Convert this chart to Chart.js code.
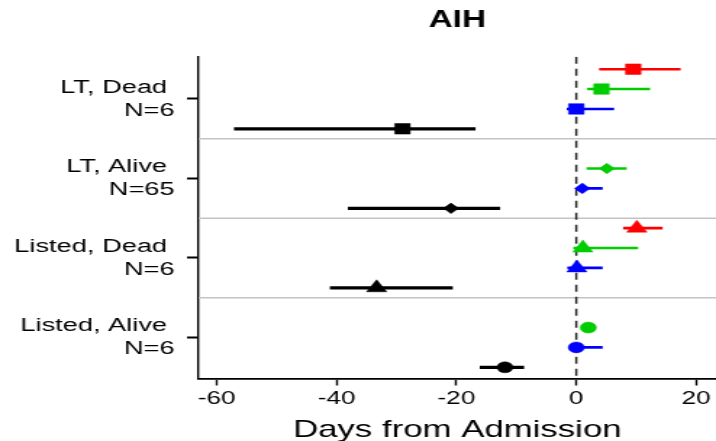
<!DOCTYPE html>
<html>
<head>
<meta charset="utf-8">
<script src="https://cdn.jsdelivr.net/npm/chart.js@4"></script>
<style>html,body{margin:0;padding:0;background:#fff}</style>
</head>
<body>
<!-- the reference is a horizontally stretched image, so the canvas is drawn narrow and stretched by CSS -->
<canvas id="chart" width="494" height="441" style="width:716px;height:441px;display:block"></canvas>
<script>
// ===== data (top group first) =====
const groups = ['LT, Dead', 'LT, Alive', 'Listed, Dead', 'Listed, Alive'];
const groupN = [6, 65, 6, 6];
const xTicks = [-60, -40, -20, 0, 20];

// estimate + interval in days from admission, null = not shown
const redPt   = [9.5, null, 10.1, null];
const redLo   = [3.8, null, 7.8, null];
const redHi   = [17.4, null, 14.4, null];
const greenPt = [4.2, 5.1, 1.1, 2.0];
const greenLo = [1.8, 1.7, -0.5, 1.3];
const greenHi = [12.3, 8.4, 10.3, 2.7];
const bluePt  = [0.0, 1.0, 0.1, 0.0];
const blueLo  = [-1.6, 0.1, -1.5, -1.2];
const blueHi  = [6.3, 4.4, 4.4, 4.4];
const blackPt = [-29.0, -20.9, -33.3, -11.9];
const blackLo = [-57.1, -38.1, -41.1, -16.1];
const blackHi = [-16.8, -12.7, -20.6, -8.7];

// ===== styles =====
const FONT = "'Liberation Sans', Arial, sans-serif";
const X_MIN = -63, X_MAX = 23.3, Y_MIN = 0.484, Y_MAX = 4.532;
const series = [
  { pt: redPt,   lo: redLo,   hi: redHi,   color: '#ff0000', off: 0.375,  lw: 2.6 },
  { pt: greenPt, lo: greenLo, hi: greenHi, color: '#00cc00', off: 0.125,  lw: 2.6 },
  { pt: bluePt,  lo: blueLo,  hi: blueHi,  color: '#0000ff', off: -0.125, lw: 2.6 },
  { pt: blackPt, lo: blackLo, hi: blackHi, color: '#000000', off: -0.375, lw: 3.2 }
];
const markers = [
  { style: 'rect', r: 7.5 }, { style: 'rectRot', r: 5.3 },
  { style: 'triangle', r: 8 }, { style: 'circle', r: 5.5 }
];
const groupY = i => groups.length - i;

const datasets = [];
// separators between groups
for (let k = 1; k < groups.length; k++) {
  const y = groupY(k) + 0.5;
  datasets.push({ type: 'line', data: [{x: X_MIN, y}, {x: X_MAX, y}], borderColor: '#c4c4c4',
    borderWidth: 1.5, pointRadius: 0, showLine: true, order: 4 });
}
// reference line at 0
datasets.push({ type: 'line', data: [{x: 0, y: Y_MAX}, {x: 0, y: Y_MIN}], borderColor: '#222',
  borderWidth: 1.5, borderDash: [7, 5], pointRadius: 0, showLine: true, order: 3 });

series.forEach(s => {
  const pts = [];
  groups.forEach((g, i) => {
    if (s.pt[i] === null) return;
    const y = groupY(i) + s.off;
    datasets.push({ type: 'line', data: [{x: s.lo[i], y}, {x: s.hi[i], y}], borderColor: s.color,
      borderWidth: s.lw, pointRadius: 0, showLine: true, order: 2 });
    pts.push({ x: s.pt[i], y, g: i });
  });
  datasets.push({ type: 'scatter', data: pts, showLine: false, order: 1,
    backgroundColor: s.color, borderColor: s.color, pointBorderWidth: 0.5,
    pointStyle: c => markers[c.raw.g].style, pointRadius: c => markers[c.raw.g].r });
});

new Chart(document.getElementById('chart'), {
  type: 'scatter',
  data: { datasets },
  options: {
    responsive: false, animation: false, events: [],
    layout: { padding: 0, autoPadding: false },
    plugins: {
      legend: { display: false }, tooltip: { enabled: false },
      title: { display: true, text: 'AIH', fullSize: false, color: '#000',
        font: { family: FONT, size: 23, weight: 'bold', lineHeight: 1.2 }, padding: { top: 7, bottom: 22.1 } }
    },
    scales: {
      x: {
        type: 'linear', min: X_MIN, max: X_MAX,
        afterBuildTicks: s => { s.ticks = xTicks.map(v => ({ value: v })); },
        afterFit: s => { s.height = 62.5; },
        grid: { drawOnChartArea: false, tickLength: 7, tickWidth: 1.4, tickColor: '#000' },
        border: { display: true, color: '#000', width: 1.8 },
        ticks: { color: '#000', padding: 3, maxRotation: 0, autoSkip: false, font: { family: FONT, size: 18 },
          callback: v => String(v) },
        title: { display: true, text: 'Days from Admission', color: '#000', padding: 0,
          font: { family: FONT, size: 24, lineHeight: 0.9 } }
      },
      y: {
        type: 'linear', min: Y_MIN, max: Y_MAX,
        afterBuildTicks: s => { s.ticks = groups.map((g, i) => ({ value: groupY(i) })); },
        afterFit: s => { s.width = 137; },
        grid: { drawOnChartArea: false, tickLength: 8, tickWidth: 2, tickColor: '#000' },
        border: { display: true, color: '#000', width: 1.4 },
        ticks: { color: '#000', padding: 8.5, autoSkip: false, font: { family: FONT, size: 18.8, lineHeight: 1.22 },
          callback: v => { const i = groups.length - v; return [groups[i] + ' ', 'N=' + groupN[i]]; } }
      }
    }
  }
});
</script>
</body>
</html>
